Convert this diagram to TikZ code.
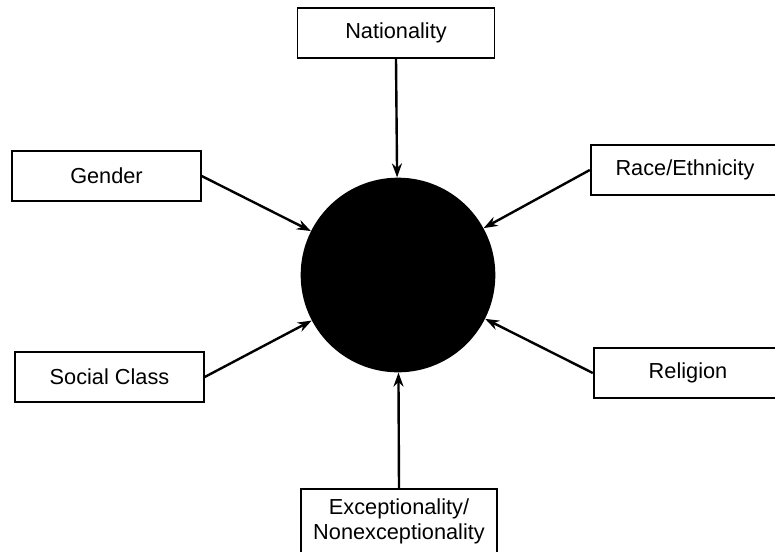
\documentclass[tikz,border=0pt]{standalone}
\usepackage{fontspec}
\setmainfont{Liberation Sans}
\usetikzlibrary{arrows.meta}
\begin{document}
\begin{tikzpicture}[x=0.75pt,y=-0.75pt,
  box/.style={draw, line width=1.3pt, minimum width=141.5pt, minimum height=37.5pt,
    inner sep=0pt, align=center, font=\fontsize{16.3}{18.75}\selectfont},
  link/.style={line width=1.8pt, -{Stealth[length=10.5pt,width=7.5pt]}}]%identity factors
\useasboundingbox (0,0) rectangle (775,551);
\node[circle, fill=black, minimum size=146pt, inner sep=0pt] (core) at (398,275) {};
\node[box, minimum width=147.75pt] (nat) at (396,33) {Nationality};
\node[box] (gender) at (106.5,176) {Gender};
\node[box] (race) at (685,170) {Race/Ethnicity};
\node[box] (social) at (109.5,377) {Social Class};
\node[box] (rel) at (688,373) {Religion};
\node[box, minimum width=147pt, minimum height=48pt] (exc) at (399,521)
  {Exceptionality/\\Nonexceptionality};
\draw[link] (nat.south) -- (core);
\draw[link] (gender.east) -- (core);
\draw[link] (race.west) -- (core);
\draw[link] (social.east) -- (core);
\draw[link] (rel.west) -- (core);
\draw[link] (exc.north) -- (core);
\end{tikzpicture}
\end{document}
